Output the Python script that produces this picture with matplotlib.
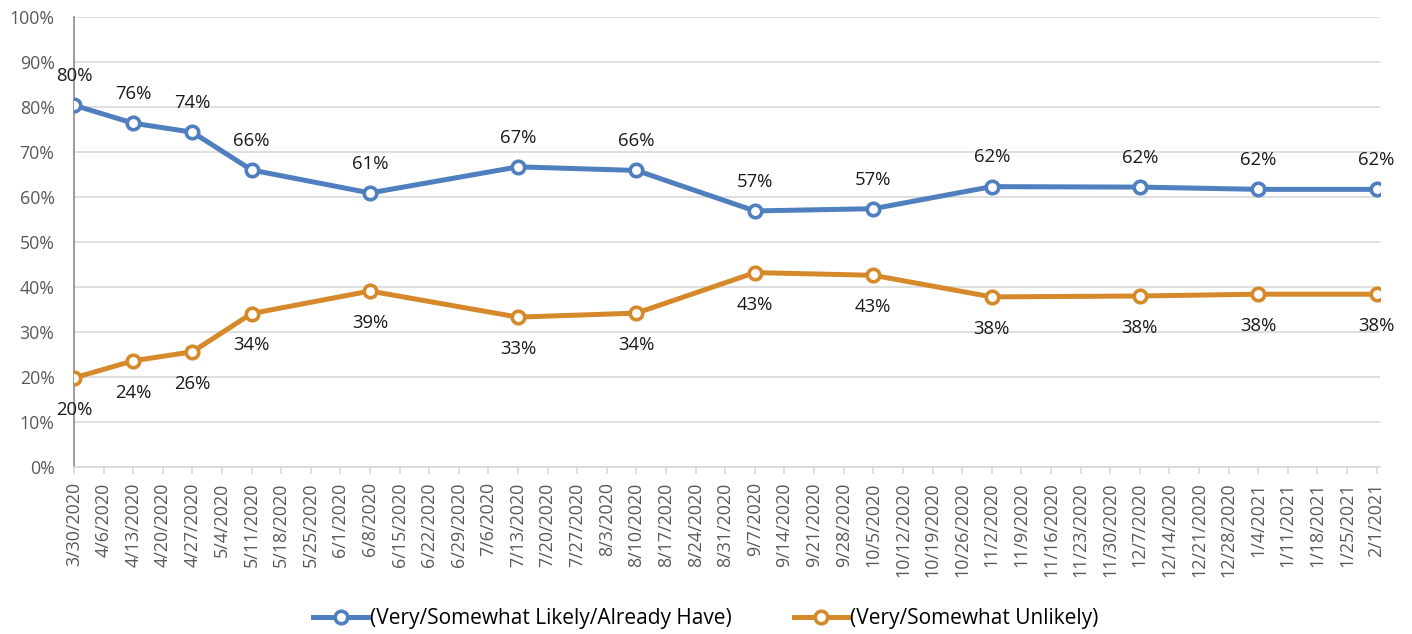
import numpy as np
import matplotlib.pyplot as plt

plt.rcParams['font.family'] = ['Open Sans', 'DejaVu Sans']

# weekly axis categories
week_labels = ['3/30/2020', '4/6/2020', '4/13/2020', '4/20/2020', '4/27/2020', '5/4/2020',
               '5/11/2020', '5/18/2020', '5/25/2020', '6/1/2020', '6/8/2020', '6/15/2020',
               '6/22/2020', '6/29/2020', '7/6/2020', '7/13/2020', '7/20/2020', '7/27/2020',
               '8/3/2020', '8/10/2020', '8/17/2020', '8/24/2020', '8/31/2020', '9/7/2020',
               '9/14/2020', '9/21/2020', '9/28/2020', '10/5/2020', '10/12/2020', '10/19/2020',
               '10/26/2020', '11/2/2020', '11/9/2020', '11/16/2020', '11/23/2020', '11/30/2020',
               '12/7/2020', '12/14/2020', '12/21/2020', '12/28/2020', '1/4/2021', '1/11/2021',
               '1/18/2021', '1/25/2021', '2/1/2021']

# survey waves
survey_dates = ['3/30/2020', '4/13/2020', '4/27/2020', '5/11/2020', '6/8/2020', '7/13/2020',
                '8/10/2020', '9/7/2020', '10/5/2020', '11/2/2020', '12/7/2020', '1/4/2021',
                '2/1/2021']
likely = [80.4, 76.4, 74.4, 66.0, 60.9, 66.7, 65.9, 56.9, 57.4, 62.3, 62.2, 61.7, 61.7]
unlikely = [19.8, 23.6, 25.6, 34.1, 39.1, 33.3, 34.2, 43.2, 42.6, 37.8, 38.0, 38.4, 38.4]

blue = '#4f7fbe'
orange = '#d5892a'

fig = plt.figure(figsize=(14.12, 6.34), dpi=100)
ax = fig.add_axes([0.0524, 0.2634, 0.9246, 0.7098])

xpos = np.array([week_labels.index(d) for d in survey_dates])

ax.plot(xpos, likely, color=blue, lw=3.6, marker='o', ms=9, mfc='white', mec=blue, mew=2.6,
        label='(Very/Somewhat Likely/Already Have)', zorder=3)
ax.plot(xpos, unlikely, color=orange, lw=3.6, marker='o', ms=9, mfc='white', mec=orange, mew=2.6,
        label='(Very/Somewhat Unlikely)', zorder=3)

for x, v in zip(xpos, likely):
    ax.annotate(f'{round(v)}%', (x, v), xytext=(0, 21), textcoords='offset points',
                ha='center', va='center', fontsize=13.3, color='#1a1a1a')
for x, v in zip(xpos, unlikely):
    ax.annotate(f'{round(v)}%', (x, v), xytext=(0, -23), textcoords='offset points',
                ha='center', va='center', fontsize=13.3, color='#1a1a1a')

ax.set_ylim(0, 100)
ax.set_yticks(np.arange(0, 101, 10))
ax.set_yticklabels([f'{t}%' for t in range(0, 101, 10)])
ax.set_xlim(0, 44.1)
ax.set_xticks(np.arange(len(week_labels)))
ax.set_xticklabels(week_labels, rotation=90)

ax.grid(axis='y', color='#d9d9d9', lw=1.2)
ax.set_axisbelow(True)
for s in ['top', 'right']:
    ax.spines[s].set_visible(False)
ax.spines['left'].set_color('#8c8c8c')
ax.spines['left'].set_linewidth(1.2)
ax.spines['bottom'].set_color('#d9d9d9')
ax.spines['bottom'].set_linewidth(1.2)
ax.tick_params(axis='y', length=0, labelsize=12.8, labelcolor='#595959', pad=14)
ax.tick_params(axis='x', length=5, color='#d9d9d9', width=1.2, labelsize=12.9, labelcolor='#595959', pad=6)

fig.legend(loc='center', bbox_to_anchor=(0.5, 0.024), ncol=2, frameon=False, fontsize=15,
           handlelength=2.6, columnspacing=3.0, handletextpad=0.1)

fig.savefig('out.png', dpi=100)
